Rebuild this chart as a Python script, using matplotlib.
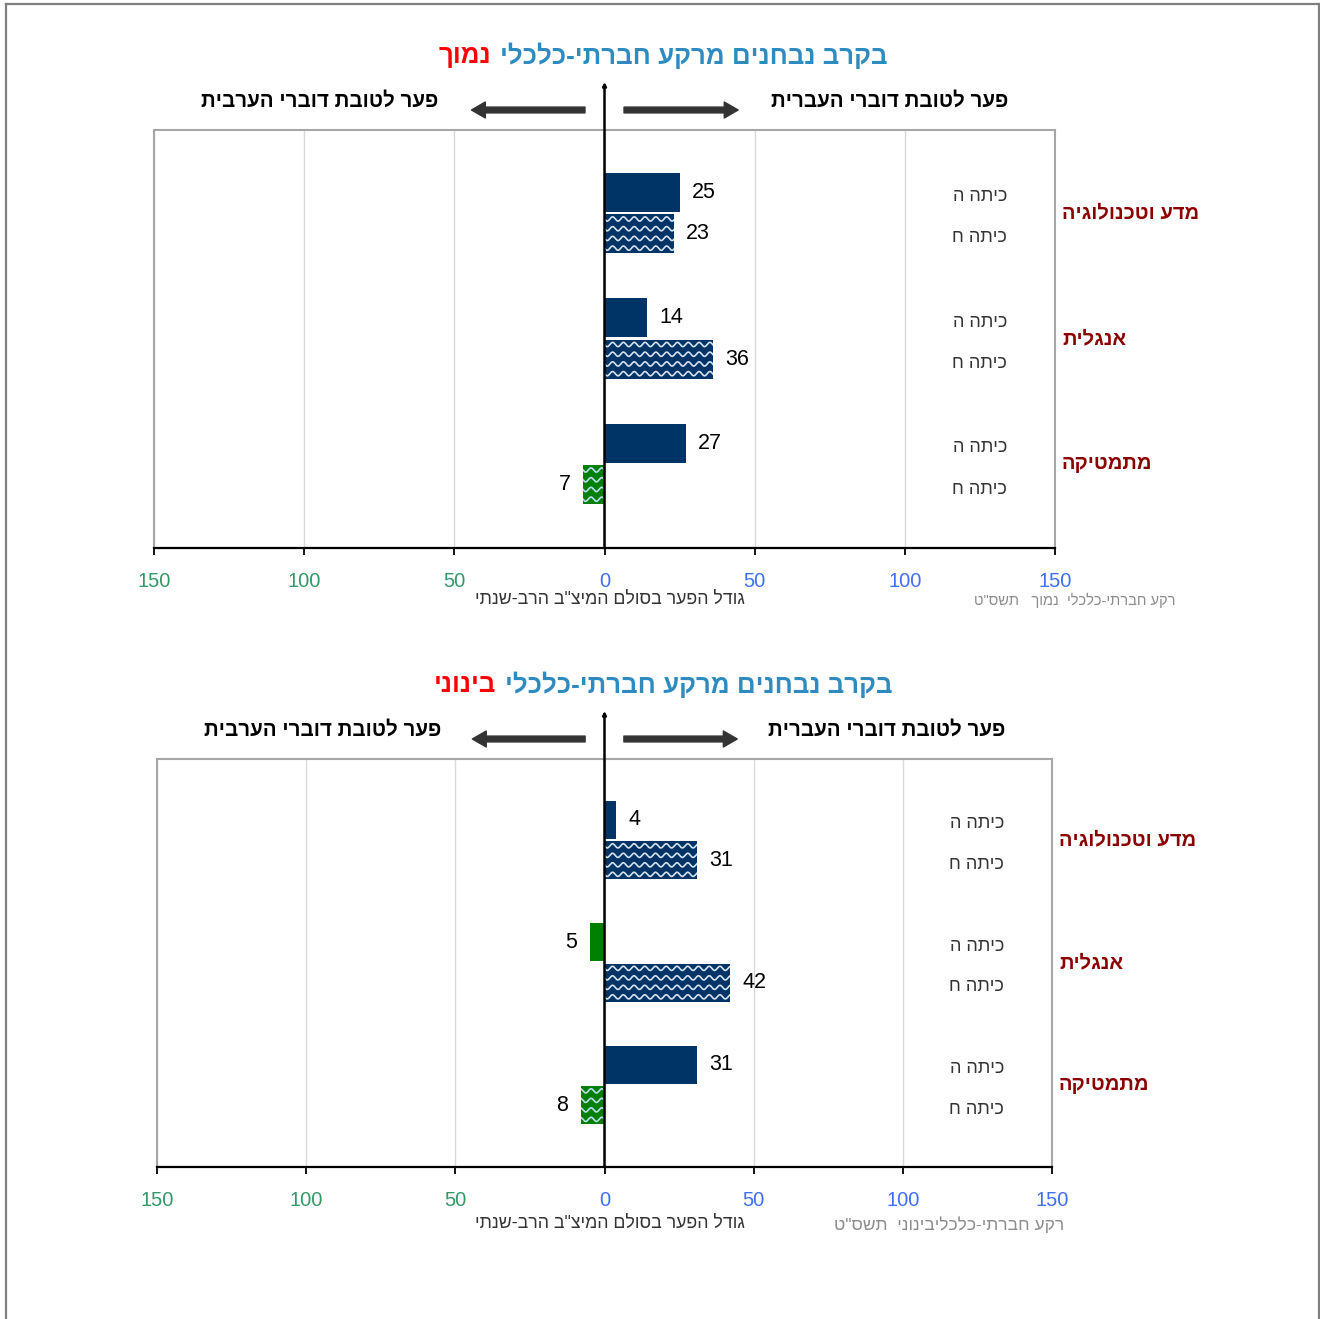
import numpy as np
import matplotlib
matplotlib.use('Agg')
import matplotlib.pyplot as plt
from matplotlib.lines import Line2D

plt.rcParams['font.family'] = ['Liberation Sans', 'DejaVu Sans']

# data
subjects = ['מדע וטכנולוגיה', 'אנגלית', 'מתמטיקה']
grades = ['כיתה ה', 'כיתה ח']
low_heh = [25, 14, 27]
low_chet = [23, 36, -7]
mid_heh = [4, -5, 31]
mid_chet = [31, 42, -8]
levels = ['נמוך', 'בינוני']
title_base = 'בקרב נבחנים מרקע חברתי-כלכלי'
hdr_arabic = 'פער לטובת דוברי הערבית'
hdr_hebrew = 'פער לטובת דוברי העברית'
xlabel_txt = 'גודל הפער בסולם המיצ"ב הרב-שנתי'
footers = ['רקע חברתי-כלכלי  נמוך   תשס"ט', 'רקע חברתי-כלכליבינוני  תשס"ט']
xticks = [-150, -100, -50, 0, 50, 100, 150]

W, H = 1320, 1319
NAVY = '#003366'
GREEN = '#008000'
TITLE_BLUE = '#2e8bc0'
DARKRED = '#8b0000'


def rtl(s):
    # matplotlib has no bidi support, so hebrew is written in visual order
    return s[::-1]


def fx(px):
    return px / W


def fy(py):
    return 1 - py / H


def wave_fill(ax, bar, color):
    x0, y0 = bar.get_x(), bar.get_y()
    w, h = bar.get_width(), bar.get_height()
    xs = np.linspace(min(x0, x0 + w) - 2, max(x0, x0 + w) + 2, 400)
    nrows = 4
    for k in range(nrows):
        yc = y0 + h * (k + 0.5) / nrows
        ln, = ax.plot(xs, yc + 0.017 * np.sin(2 * np.pi * xs / 3.6),
                      color=color, lw=1.2)
        ln.set_clip_path(bar)


fig = plt.figure(figsize=(13.2, 13.19), dpi=100)

# outer frame
for xs_, ys_ in [([5.5, 5.5], [3.5, H]), ([5.5, 1318.5], [3.5, 3.5]), ([1318.5, 1318.5], [3.5, H])]:
    fig.add_artist(Line2D([fx(v) for v in xs_], [fy(v) for v in ys_], color='#808080', lw=1.6))

panels = [
    dict(box=(154, 130, 1055, 548), heh=low_heh, chet=low_chet, level=levels[0],
         footer=footers[0], footer_x=1175, footer_fs=10.5),
    dict(box=(157, 759, 1052, 1167), heh=mid_heh, chet=mid_chet, level=levels[1],
         footer=footers[1], footer_x=1064, footer_fs=12.5),
]

renderer = fig.canvas.get_renderer()

for p in panels:
    l, t, r, b = p['box']
    ax = fig.add_axes([fx(l), fy(b), (r - l) / W, (b - t) / H])
    ypos = np.arange(len(subjects))
    off, bh = 0.165, 0.31

    for vals, dy, hatched in [(p['heh'], -off, False), (p['chet'], off, True)]:
        cols = [NAVY if v >= 0 else GREEN for v in vals]
        bars = ax.barh(ypos + dy, vals, height=bh, color=cols, zorder=2)
        for bar, v in zip(bars, vals):
            if hatched:
                wave_fill(ax, bar, '#d6e2f0' if v >= 0 else '#b9dcef')
            ax.annotate(str(abs(v)), (v, bar.get_y() + bh / 2),
                        xytext=(9 if v >= 0 else -9, 0), textcoords='offset points',
                        ha='left' if v >= 0 else 'right', va='center', fontsize=15.5)
        for y in ypos + dy:
            ax.text(1.0 - 48 / (r - l), y + 0.035, rtl(grades[0] if dy < 0 else grades[1]),
                    transform=ax.get_yaxis_transform(), ha='right', va='center',
                    fontsize=13, color='#333333')

    for y, s in zip(ypos, subjects):
        ax.text(1.0 + 7 / (r - l), y, rtl(s), transform=ax.get_yaxis_transform(),
                ha='left', va='center', fontsize=14.5, fontweight='bold', color=DARKRED)

    ax.set_xlim(-150, 150)
    ax.set_ylim(2.67, -0.66)
    ax.set_yticks([])
    ax.set_xticks(xticks)
    ax.set_xticklabels([str(abs(v)) for v in xticks])
    for lbl, v in zip(ax.get_xticklabels(), xticks):
        lbl.set_color('#339966' if v < 0 else '#3d6ffa')
    ax.tick_params(axis='x', direction='out', length=5, width=1.3, pad=12, labelsize=14.5)
    ax.grid(axis='x', color='#d9d9d9', lw=1, zorder=0)
    for s in ['left', 'right', 'top']:
        ax.spines[s].set_color('#a6a6a6')
        ax.spines[s].set_linewidth(1.5)
    ax.spines['bottom'].set_color('black')
    ax.spines['bottom'].set_linewidth(1.6)

    # zero line, reaching above the plot
    top_frac = 1 + 48 / (b - t)
    ax.annotate('', xy=(0, top_frac), xytext=(0, 0), xycoords=ax.get_xaxis_transform(),
                arrowprops=dict(arrowstyle='-|>', color='black', lw=1.8, mutation_scale=5,
                                shrinkA=0, shrinkB=0), annotation_clip=False, zorder=5)

    # direction arrows
    ay = 1 + 20 / (b - t)
    arrow_style = 'simple,head_length=1.0,head_width=1.15,tail_width=0.42'
    for x_tail, x_head in [(-6.5, -44.3), (6.5, 44.5)]:
        ax.annotate('', xy=(x_head, ay), xytext=(x_tail, ay), xycoords=ax.get_xaxis_transform(),
                    arrowprops=dict(arrowstyle=arrow_style, color='#333333', mutation_scale=10,
                                    shrinkA=0, shrinkB=0), annotation_clip=False)

    hy = fy(t - 29)
    fig.text(fx(l + 284), hy, rtl(hdr_arabic), ha='right', va='center',
             fontsize=14.8, fontweight='bold')
    fig.text(fx(r - 47), hy, rtl(hdr_hebrew), ha='right', va='center',
             fontsize=14.8, fontweight='bold')

    # two-colour title, centred as a whole
    ty = fy(t - 74)
    t_blue = fig.text(0, ty, rtl(title_base), ha='left', va='center', fontsize=18.6,
                      fontweight='bold', color=TITLE_BLUE)
    t_red = fig.text(0, ty, rtl(p['level']), ha='left', va='center', fontsize=18.6,
                     fontweight='bold', color='#ff0000')
    wb = t_blue.get_window_extent(renderer).width
    wr = t_red.get_window_extent(renderer).width
    gap = 9
    x_start = 663 - (wb + wr + gap) / 2
    t_red.set_x(fx(x_start))
    t_blue.set_x(fx(x_start + wr + gap))

    fig.text(fx(610), fy(b + 51 + (5 if l > 155 else 0)), rtl(xlabel_txt), ha='center',
             va='center', fontsize=12.8, color='#333333')
    fig.text(fx(p['footer_x']), fy(b + 52 + (6 if l > 155 else 0)), rtl(p['footer']),
             ha='right', va='center', fontsize=p['footer_fs'], color='#8c8c8c')

fig.savefig('out.png', dpi=100)
